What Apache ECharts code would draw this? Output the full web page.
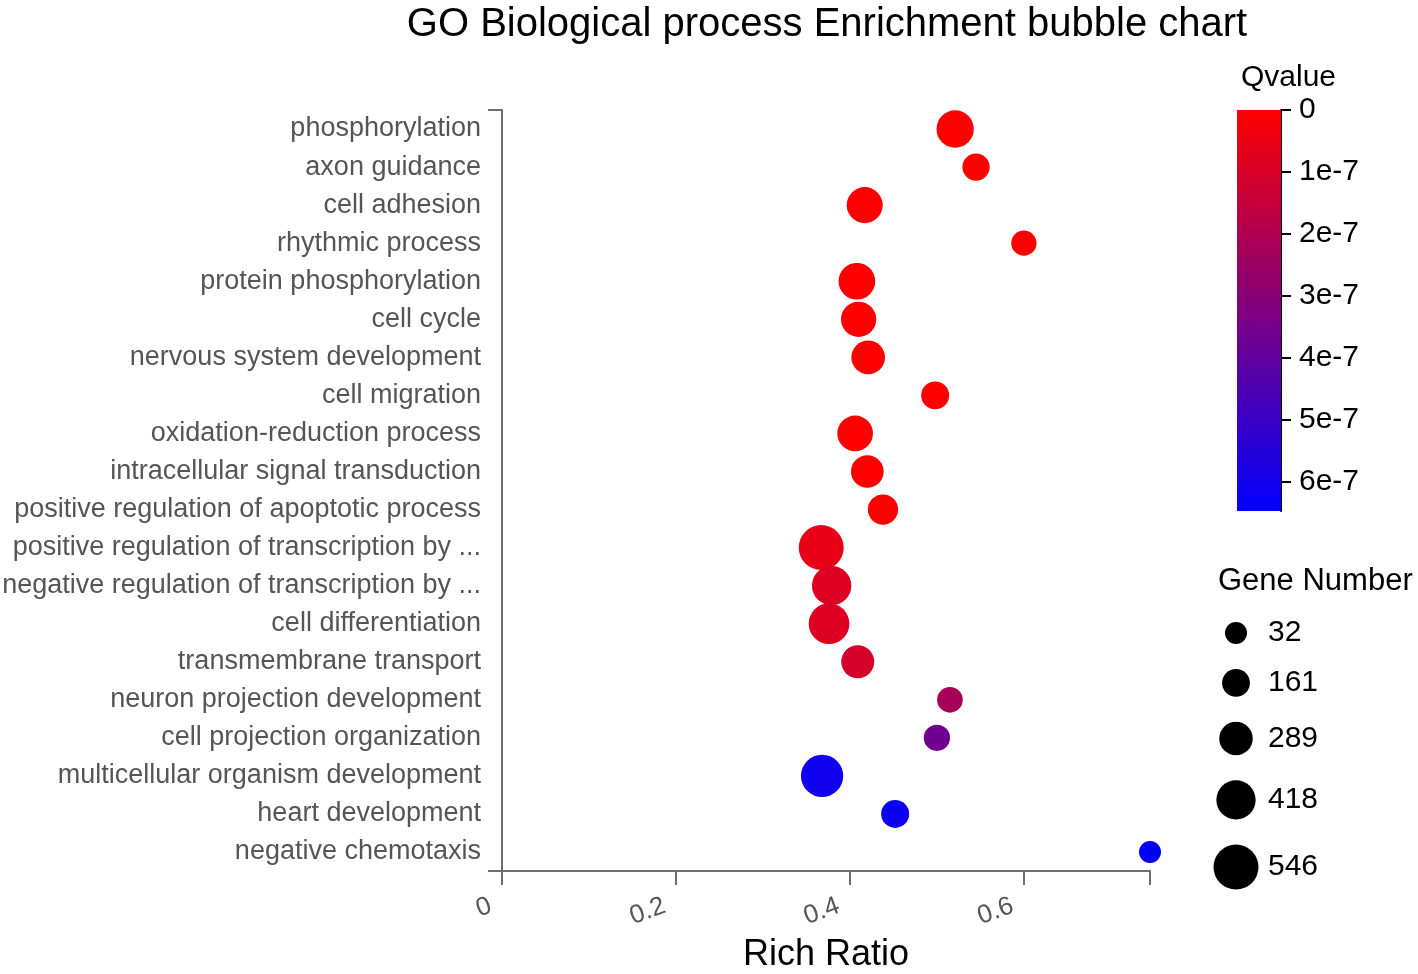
<!DOCTYPE html>
<html lang="en">
<head>
    <meta charset="UTF-8">
    <title>GO Biological process Enrichment bubble chart</title>
    <script src="https://cdn.jsdelivr.net/npm/echarts@6/dist/echarts.min.js"></script>
    <style>
        html, body { margin: 0; padding: 0; background: #fff; }
        #chart { width: 1418px; height: 974px; }
    </style>
</head>
<body>
    <div id="chart"></div>
    <script>
        var terms = [
            'phosphorylation', 'axon guidance', 'cell adhesion', 'rhythmic process',
            'protein phosphorylation', 'cell cycle', 'nervous system development',
            'cell migration', 'oxidation-reduction process', 'intracellular signal transduction',
            'positive regulation of apoptotic process', 'positive regulation of transcription by ...',
            'negative regulation of transcription by ...', 'cell differentiation',
            'transmembrane transport', 'neuron projection development',
            'cell projection organization', 'multicellular organism development',
            'heart development', 'negative chemotaxis'
        ];
        var richRatio = [0.521, 0.545, 0.417, 0.600, 0.408, 0.410, 0.421, 0.498, 0.406, 0.420,
                         0.438, 0.367, 0.379, 0.376, 0.409, 0.515, 0.500, 0.368, 0.452, 0.745];
        var geneNumber = [374, 150, 345, 106, 360, 329, 293, 166, 338, 271,
                          217, 546, 419, 450, 278, 115, 128, 486, 166, 32];
        var qvalue = [2e-12, 5e-11, 1e-11, 3e-10, 4e-12, 6e-12, 1e-12, 8e-10, 3e-12, 2e-11,
                      4e-9, 5.8e-8, 8.7e-8, 8.5e-8, 1.07e-7, 2.26e-7, 3.65e-7, 6.08e-7, 6.2e-7, 6.47e-7];

        var xTicks = [0, 0.2, 0.4, 0.6];
        var qTicks = [0, 1e-7, 2e-7, 3e-7, 4e-7, 5e-7, 6e-7];
        var geneTicks = [32, 161, 289, 418, 546];
        var qColors = ['#ff0000', '#0000ff'];

        var qMax = Math.max.apply(null, qvalue);
        var gMin = Math.min.apply(null, geneTicks);
        var gMax = Math.max.apply(null, geneTicks);

        function bubbleSize(v) {
            return 22 + (v - gMin) * 23 / (gMax - gMin);
        }

        var points = terms.map(function (t, i) {
            return [richRatio[i], t, geneNumber[i], qvalue[i]];
        });

        // legend circles stacked by their size with a fixed gap
        var legendPos = [];
        var cy = 33;
        geneTicks.forEach(function (g, i) {
            if (i > 0) cy += (bubbleSize(geneTicks[i - 1]) + bubbleSize(g)) / 2 + 25;
            legendPos.push(cy);
        });
        var legendData = geneTicks.map(function (g, i) {
            var d = bubbleSize(g);
            return {
                value: [0, legendPos[i], g],
                label: { position: [d / 2 + 32, d / 2] }
            };
        });

        var grey = '#555';
        var axisGrey = '#6e6e6e';
        var font = 'Liberation Sans, Arial, sans-serif';

        var chart = echarts.init(document.getElementById('chart'));
        var option = {
            animation: false,
            textStyle: { fontFamily: font },
            title: [
                {
                    text: 'GO Biological process Enrichment bubble chart',
                    left: 822, top: 0, textAlign: 'center',
                    textStyle: { fontSize: 40, fontWeight: 'normal', color: '#000', fontFamily: font }
                },
                {
                    text: 'Qvalue', left: 1236, top: 58,
                    textStyle: { fontSize: 30, fontWeight: 'normal', color: '#000', fontFamily: font }
                },
                {
                    text: 'Gene Number', left: 1213, top: 561,
                    textStyle: { fontSize: 31, fontWeight: 'normal', color: '#000', fontFamily: font }
                }
            ],
            grid: [
                { left: 502, top: 110, width: 648, height: 761, outerBoundsMode: 'none' },
                { left: 1237, top: 110, width: 44, height: 401, outerBoundsMode: 'none' },
                { left: 1206, top: 600, width: 60, height: 300, outerBoundsMode: 'none' }
            ],
            visualMap: {
                type: 'continuous',
                show: false,
                seriesIndex: 0,
                dimension: 3,
                min: 0,
                max: qMax,
                inRange: { color: qColors }
            },
            xAxis: [
                {
                    gridIndex: 0,
                    type: 'value',
                    min: 0,
                    max: 'dataMax',
                    interval: 0.2,
                    name: 'Rich Ratio',
                    nameLocation: 'middle',
                    nameGap: 66,
                    nameMoveOverlap: false,
                    nameTextStyle: { fontSize: 36, color: '#000', verticalAlign: 'top' },
                    axisLine: { lineStyle: { color: axisGrey, width: 2 } },
                    axisTick: { length: 14, lineStyle: { color: axisGrey, width: 2 } },
                    axisLabel: {
                        customValues: xTicks,
                        rotate: 20, margin: 30,
                        padding: [0, 12, 0, 0],
                        fontSize: 26, color: grey
                    },
                    splitLine: { show: false }
                },
                {
                    gridIndex: 1, type: 'category', data: ['Qvalue'],
                    show: false
                },
                { gridIndex: 2, type: 'value', min: -1, max: 1, show: false }
            ],
            yAxis: [
                {
                    gridIndex: 0,
                    type: 'category',
                    position: 'left',
                    data: terms,
                    inverse: true,
                    axisLine: { lineStyle: { color: axisGrey, width: 2 } },
                    axisTick: { alignWithLabel: true, length: 14, lineStyle: { color: axisGrey, width: 2 } },
                    axisLabel: { fontSize: 27, color: grey, margin: 21 },
                    splitLine: { show: false }
                },
                {
                    gridIndex: 0,
                    type: 'value',
                    position: 'left',
                    min: 0, max: 1, interval: 1,
                    axisLine: { show: true, lineStyle: { color: axisGrey, width: 2 } },
                    axisTick: { show: true, length: 14, lineStyle: { color: axisGrey, width: 2 } },
                    axisLabel: { show: false },
                    splitLine: { show: false }
                },
                {
                    gridIndex: 1,
                    type: 'value',
                    position: 'right',
                    min: 0, max: qMax,
                    inverse: true,
                    axisLine: { show: true, lineStyle: { color: '#000', width: 2 } },
                    axisTick: { show: true, customValues: qTicks, length: 10, lineStyle: { color: '#000', width: 2 } },
                    axisLabel: {
                        customValues: qTicks, margin: 18,
                        fontSize: 30, color: '#000',
                        formatter: function (v) {
                            return v === 0 ? '0' : Math.round(v * 1e7) + 'e-7';
                        }
                    },
                    splitLine: { show: false }
                },
                { gridIndex: 2, type: 'value', min: 0, max: 300, inverse: true, show: false }
            ],
            series: [
                {
                    type: 'scatter',
                    xAxisIndex: 0, yAxisIndex: 0,
                    data: points,
                    symbolSize: function (d) { return bubbleSize(d[2]); },
                    itemStyle: { opacity: 1 }
                },
                {
                    type: 'scatter',
                    xAxisIndex: 2, yAxisIndex: 3,
                    data: legendData,
                    symbolSize: function (d) { return bubbleSize(d[2]); },
                    itemStyle: { color: '#000', opacity: 1 },
                    label: {
                        show: true,
                        formatter: function (p) { return p.value[2]; },
                        align: 'left', verticalAlign: 'middle',
                        fontSize: 30, color: '#000'
                    }
                },
                {
                    // colour bar of the Qvalue scale
                    type: 'bar',
                    xAxisIndex: 1, yAxisIndex: 2,
                    data: [qMax],
                    barWidth: '100%',
                    silent: true,
                    itemStyle: {
                        color: new echarts.graphic.LinearGradient(0, 0, 0, 1, [
                            { offset: 0, color: qColors[0] },
                            { offset: 1, color: qColors[1] }
                        ])
                    }
                }
            ]
        };
        chart.setOption(option);
    </script>
</body>
</html>
